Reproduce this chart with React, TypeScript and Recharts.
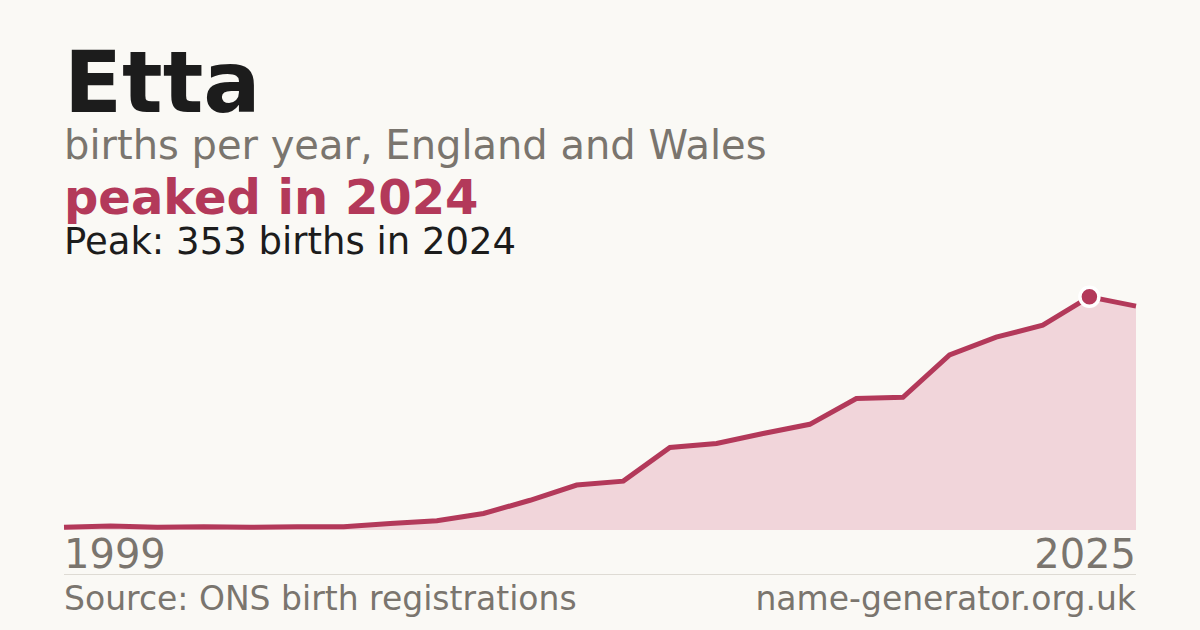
import { AreaChart, Area, XAxis, YAxis, ReferenceDot } from 'recharts';

// ONS counts for "Etta" (years with fewer than 3 births are not published)
const years = [
  1999, 2001, 2003, 2005, 2006, 2007, 2008, 2009, 2010, 2011, 2012, 2013, 2014, 2015, 2016, 2017,
  2018, 2019, 2020, 2021, 2022, 2023, 2024, 2025,
];
const births = [
  4, 6, 4, 5, 4, 5, 5, 10, 14, 25, 45, 68, 74, 125, 131, 146, 160, 199, 201, 265, 292, 310, 353, 339,
];
const axisLabels = [1999, 2025];

const RED = '#b3395a';
const GREY = '#7a756e';
const INK = '#1c1c1c';
const FONT = '"DejaVu Sans", sans-serif';

const data = years.map((year, i) => ({ year, births: births[i] }));

const peakIndex = births.indexOf(Math.max(...births));
const peakYear = years[peakIndex];
const peakValue = births[peakIndex];

const YearTick = (props: any) => {
  const { x, y, payload } = props;
  const first = payload.value === axisLabels[0];
  return (
    <text
      x={x}
      y={y}
      dy={30}
      textAnchor={first ? 'start' : 'end'}
      fill={GREY}
      fontSize={40}
      fontFamily={FONT}
    >
      {payload.value}
    </text>
  );
};

const App = () => {
  return (
    <div
      style={{
        position: 'absolute',
        left: 0,
        top: 0,
        width: 1200,
        height: 630,
        background: '#faf9f5',
        fontFamily: FONT,
      }}
    >
      <AreaChart
        width={1200}
        height={630}
        data={data}
        margin={{ top: 279, right: 64, bottom: 60, left: 64 }}
      >
        <XAxis
          dataKey="year"
          ticks={axisLabels}
          tick={<YearTick />}
          tickLine={false}
          axisLine={false}
          height={40}
          interval={0}
        />
        <YAxis hide domain={[0, 380]} />
        <Area
          type="linear"
          dataKey="births"
          stroke={RED}
          strokeWidth={5}
          fill="#f1d5da"
          fillOpacity={1}
          dot={false}
          activeDot={false}
          isAnimationActive={false}
        />
        <ReferenceDot
          x={peakYear}
          y={peakValue}
          r={9.5}
          fill={RED}
          stroke="#ffffff"
          strokeWidth={3.5}
        />
      </AreaChart>

      <svg
        width={1200}
        height={630}
        style={{ position: 'absolute', left: 0, top: 0, pointerEvents: 'none' }}
      >
        <text x={64} y={112} fontSize={85} fontWeight="bold" fill={INK} fontFamily={FONT}>
          Etta
        </text>
        <text x={64} y={159} fontSize={40} fill={GREY} fontFamily={FONT}>
          births per year, England and Wales
        </text>
        <text x={64} y={214} fontSize={48} fontWeight="bold" fill={RED} fontFamily={FONT}>
          peaked in {peakYear}
        </text>
        <text x={64} y={254} fontSize={37} fill={INK} fontFamily={FONT}>
          Peak: {peakValue} births in {peakYear}
        </text>
        <line x1={64} x2={1136} y1={574.5} y2={574.5} stroke="#dedbd4" strokeWidth={1} />
        <text x={64} y={610} fontSize={33} fill={GREY} fontFamily={FONT}>
          Source: ONS birth registrations
        </text>
        <text x={1136} y={610} fontSize={33} fill={GREY} fontFamily={FONT} textAnchor="end">
          name-generator.org.uk
        </text>
      </svg>
    </div>
  );
};

export default App;
